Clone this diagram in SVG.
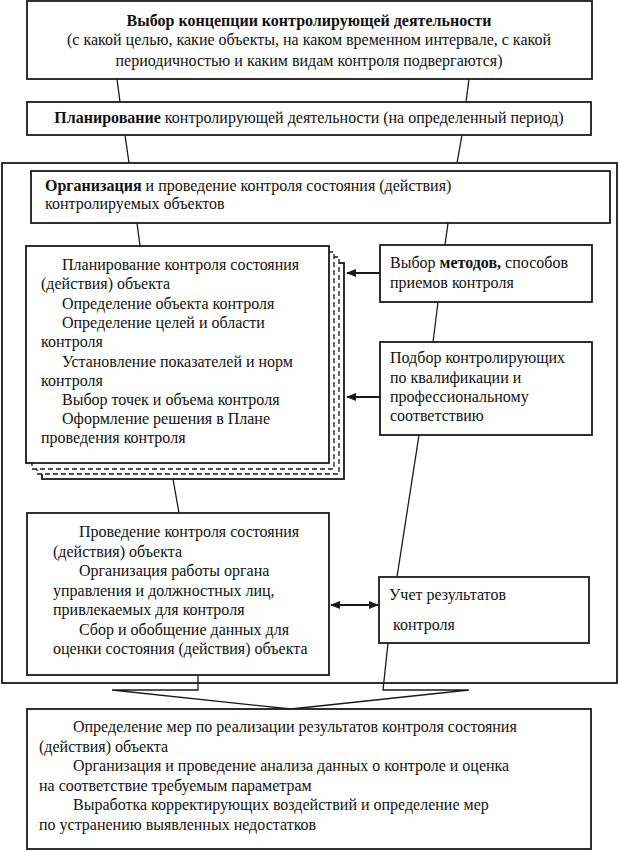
<svg xmlns="http://www.w3.org/2000/svg" width="618" height="851" viewBox="0 0 618 851">
<defs>
<style>
.box{fill:#fff;stroke:#1a1a1a;stroke-width:1.8}
.dash{fill:#fff;stroke:#1a1a1a;stroke-width:1.3;stroke-dasharray:5 3}
.ln{fill:none;stroke:#1a1a1a;stroke-width:1.3}
.ar{fill:none;stroke:#1a1a1a;stroke-width:2}
text{font-family:"Liberation Serif","Times New Roman",serif;font-size:16px;fill:#111}
.b{font-weight:bold}
.c{text-anchor:middle}
</style>
<marker id="ah" viewBox="0 0 10 10" refX="9" refY="5" markerWidth="5" markerHeight="5" orient="auto-start-reverse">
<path d="M0,1 L10,5 L0,9 z" fill="#1a1a1a"/>
</marker>
</defs>
<rect width="618" height="851" fill="#fff"/>

<g id="outer"><rect class="box" x="2" y="163" width="615" height="520"/></g>

<g id="connectors">
<line class="ln" x1="117" y1="79" x2="120" y2="102"/>
<line class="ln" x1="469" y1="79" x2="466" y2="102"/>
<line class="ln" x1="125" y1="135" x2="129" y2="163"/>
<line class="ln" x1="462" y1="135" x2="457" y2="163"/>
<line class="ln" x1="137" y1="223" x2="140" y2="246"/>
<line class="ln" x1="448" y1="223" x2="445" y2="245"/>
<line class="ln" x1="438" y1="302" x2="433" y2="342"/>
<line class="ln" x1="419" y1="435" x2="397" y2="577"/>
<line class="ln" x1="173" y1="479" x2="179" y2="513"/>
<line class="ar" x1="380" y1="273" x2="347" y2="273" marker-end="url(#ah)"/>
<line class="ar" x1="380" y1="397" x2="347" y2="397" marker-end="url(#ah)"/>
<line class="ar" x1="331" y1="605" x2="378" y2="605" marker-start="url(#ah)" marker-end="url(#ah)"/>
<polyline class="ln" points="198,675 198,690 112,690 291,709"/>
<polyline class="ln" points="388,643 383,690 469,690 291,709"/>
</g>

<g id="concept">
<rect class="box" x="27" y="1" width="565" height="78"/>
<text class="c b" x="309" y="25.5">Выбор концепции контролирующей деятельности</text>
<text class="c" x="309" y="45">(с какой целью, какие объекты, на каком временном интервале, с какой</text>
<text class="c" x="309" y="65.5">периодичностью и каким видам контроля подвергаются)</text>
</g>

<g id="planning">
<rect class="box" x="27" y="102" width="564" height="33"/>
<text class="c" x="309" y="123"><tspan class="b">Планирование</tspan> контролирующей деятельности (на определенный период)</text>
</g>

<g id="organization">
<rect class="box" x="31" y="171" width="579" height="52"/>
<text x="45" y="190.5"><tspan class="b">Организация</tspan> и проведение контроля состояния (действия)</text>
<text x="45" y="208.5">контролируемых объектов</text>
</g>

<g id="plan-stack">
<rect class="box" x="42" y="263" width="302" height="216" stroke-width="1.4"/>
<rect class="dash" x="37" y="257" width="302" height="217"/>
<rect class="dash" x="32" y="252" width="302" height="217"/>
<rect class="box" x="26" y="246" width="303" height="217"/>
<text x="62" y="270">Планирование контроля состояния</text>
<text x="41" y="289">(действия) объекта</text>
<text x="62" y="308.5">Определение объекта контроля</text>
<text x="62" y="328">Определение целей и области</text>
<text x="41" y="347">контроля</text>
<text x="62" y="367">Установление показателей и норм</text>
<text x="41" y="386">контроля</text>
<text x="62" y="405">Выбор точек и объема контроля</text>
<text x="62" y="424">Оформление решения в Плане</text>
<text x="41" y="443">проведения контроля</text>
</g>

<g id="methods">
<rect class="box" x="380" y="245" width="212" height="57"/>
<text x="390" y="268">Выбор <tspan class="b">методов,</tspan> способов</text>
<text x="390" y="288">приемов контроля</text>
</g>

<g id="selection">
<rect class="box" x="380" y="342" width="212" height="93"/>
<text x="390" y="363">Подбор контролирующих</text>
<text x="390" y="383">по квалификации и</text>
<text x="390" y="402">профессиональному</text>
<text x="390" y="421">соответствию</text>
</g>

<g id="conduct">
<rect class="box" x="27" y="513" width="302" height="162"/>
<text x="79" y="537">Проведение контроля состояния</text>
<text x="53" y="556.5">(действия) объекта</text>
<text x="79" y="576">Организация работы органа</text>
<text x="53" y="595.5">управления и должностных лиц,</text>
<text x="53" y="615">привлекаемых для контроля</text>
<text x="79" y="634.5">Сбор и обобщение данных для</text>
<text x="53" y="653.5">оценки состояния (действия) объекта</text>
</g>

<g id="accounting">
<rect class="box" x="379" y="577" width="210" height="66"/>
<text x="389" y="599.5">Учет результатов</text>
<text x="393" y="629.5">контроля</text>
</g>

<g id="measures">
<rect class="box" x="27" y="709" width="564" height="140"/>
<text x="73" y="732">Определение мер по реализации результатов контроля состояния</text>
<text x="39" y="751.5">(действия) объекта</text>
<text x="73" y="771">Организация и проведение анализа данных о контроле и оценка</text>
<text x="39" y="791">на соответствие требуемым параметрам</text>
<text x="73" y="810">Выработка корректирующих воздействий и определение мер</text>
<text x="39" y="830">по устранению выявленных недостатков</text>
</g>
</svg>
